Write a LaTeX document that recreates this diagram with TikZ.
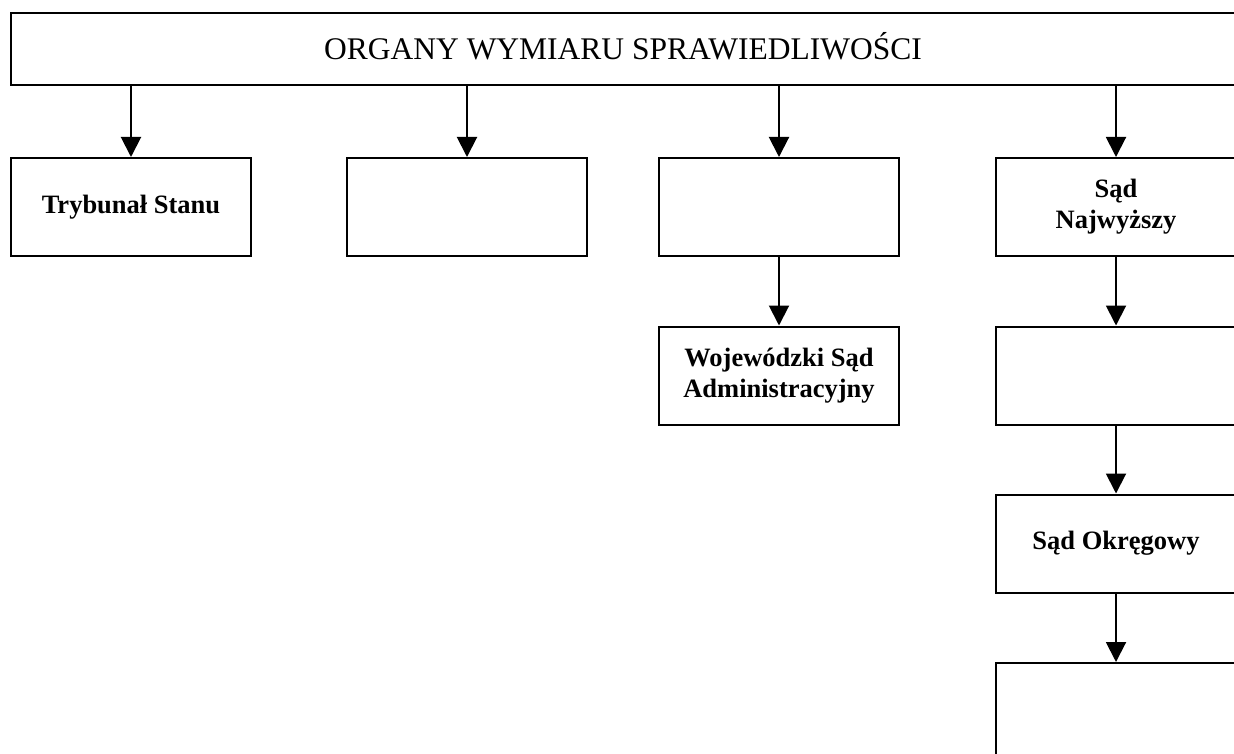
\documentclass[tikz,border=0pt]{standalone}
\usepackage{fontspec}
\setmainfont{Liberation Serif}
\usetikzlibrary{arrows.meta}
\begin{document}
\begin{tikzpicture}[x=1pt,y=-1pt,
  box/.style={draw,line width=2pt,rectangle,minimum width=240pt,minimum height=98pt,inner sep=0pt,align=center,
    font=\fontsize{26.5}{31}\selectfont\bfseries},
  arr/.style={line width=2pt,-{Triangle[length=20pt,width=20pt]}}]
\useasboundingbox (0,0) rectangle (1234,754);
\clip (0,0) rectangle (1234,754);
\fill[white] (0,0) rectangle (1234,754);
\node[draw,line width=2pt,rectangle,minimum width=1225pt,minimum height=72pt,inner sep=0pt] (top) at (623.5,49) {};
\node[font=\fontsize{31.5}{37}\selectfont] (toptext) at (623,46.5) {ORGANY WYMIARU SPRAWIEDLIWOŚCI};
\node[box] (ts) at (131,207) {Trybunał Stanu};
\node[box] (b2) at (467,207) {};
\node[box] (b3) at (779,207) {};
\node[box] (wsa) at (779,375.5) {Wojewódzki Sąd\\Administracyjny};
\node[box] (sn) at (1116,207) {Sąd\\Najwyższy};
\node[box] (sa) at (1116,375.5) {};
\node[box] (so) at (1116,543.5) {Sąd Okręgowy};
\node[box] (sr) at (1116,712) {};
\draw[arr] (top.south -| ts.north) -- (ts.north);
\draw[arr] (top.south -| b2.north) -- (b2.north);
\draw[arr] (top.south -| b3.north) -- (b3.north);
\draw[arr] (top.south -| sn.north) -- (sn.north);
\draw[arr] (b3.south) -- (wsa.north);
\draw[arr] (sn.south) -- (sa.north);
\draw[arr] (sa.south) -- (so.north);
\draw[arr] (so.south) -- (sr.north);
\end{tikzpicture}
\end{document}
